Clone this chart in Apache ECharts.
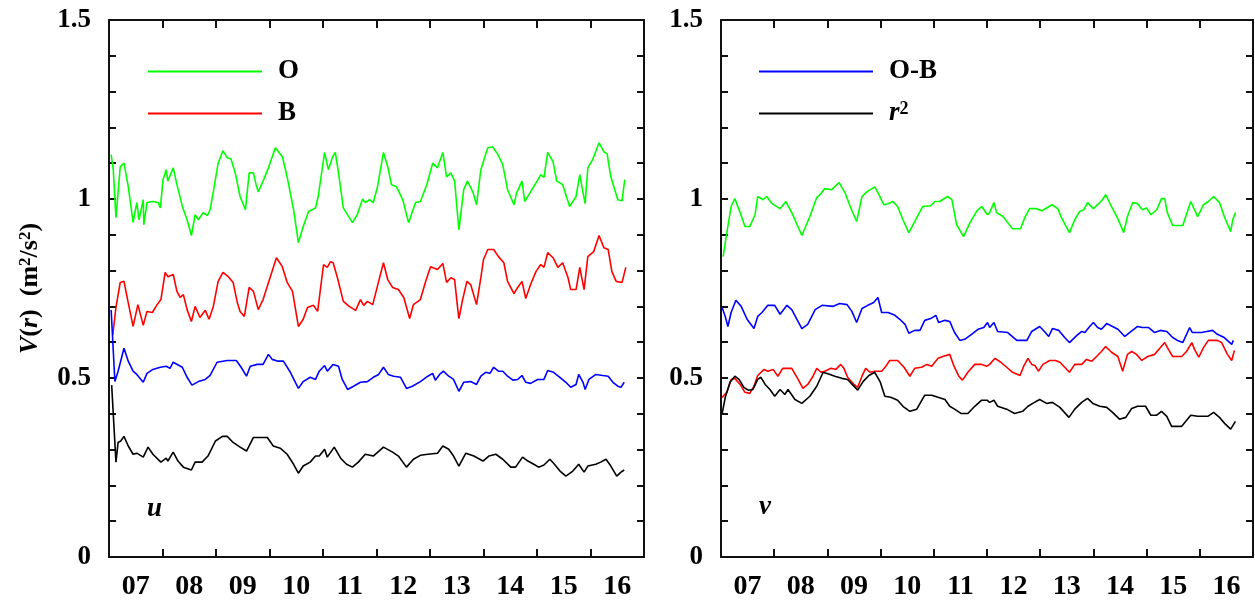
<!DOCTYPE html>
<html>
<head>
<meta charset="utf-8">
<script src="https://cdn.jsdelivr.net/npm/echarts@6/dist/echarts.min.js"></script>
<style>
  html, body { margin: 0; padding: 0; background: #fff; }
  #chart { width: 1255px; height: 601px; }
</style>
</head>
<body>
<div id="chart"></div>
<script>
// x = years since Jan 2007, y = V(r) in m2/s2
const years = ['07', '08', '09', '10', '11', '12', '13', '14', '15', '16'];

// u component
const uO = [[0.04,1.124],[0.08,1.082],[0.13,0.948],[0.21,1.09],[0.28,1.10],[0.36,1.035],[0.45,0.935],[0.52,0.99],[0.56,0.942],[0.64,0.998],[0.65,0.928],[0.71,0.99],[0.82,0.993],[0.92,0.99],[0.96,0.975],[1.01,1.054],[1.07,1.082],[1.10,1.05],[1.20,1.087],[1.27,1.04],[1.37,0.98],[1.46,0.942],[1.54,0.898],[1.61,0.956],[1.67,0.942],[1.76,0.962],[1.84,0.954],[1.89,0.97],[1.95,1.02],[2.04,1.10],[2.13,1.135],[2.21,1.115],[2.28,1.112],[2.36,1.073],[2.45,1.007],[2.55,0.97],[2.62,1.073],[2.70,1.073],[2.75,1.04],[2.79,1.02],[2.88,1.05],[2.98,1.087],[3.11,1.143],[3.24,1.118],[3.33,1.062],[3.45,0.97],[3.54,0.878],[3.63,0.923],[3.73,0.965],[3.86,0.975],[3.91,1.007],[4.03,1.13],[4.10,1.082],[4.18,1.118],[4.23,1.13],[4.29,1.073],[4.38,0.975],[4.55,0.934],[4.64,0.956],[4.74,1.0],[4.79,0.99],[4.87,0.998],[4.94,0.99],[5.02,1.035],[5.13,1.13],[5.21,1.09],[5.28,1.04],[5.37,1.035],[5.49,0.998],[5.60,0.934],[5.73,0.99],[5.82,0.993],[5.94,1.04],[6.05,1.10],[6.14,1.087],[6.24,1.13],[6.31,1.062],[6.39,1.073],[6.46,1.05],[6.54,0.914],[6.63,1.026],[6.70,1.05],[6.80,1.02],[6.87,0.984],[6.95,1.082],[7.08,1.143],[7.17,1.146],[7.27,1.124],[7.36,1.096],[7.45,1.026],[7.57,0.984],[7.62,1.018],[7.72,1.05],[7.77,0.993],[7.88,1.02],[8.00,1.05],[8.07,1.068],[8.13,1.06],[8.20,1.13],[8.30,1.104],[8.37,1.05],[8.48,1.04],[8.61,0.979],[8.73,1.007],[8.80,1.068],[8.86,1.018],[8.90,0.987],[8.95,1.087],[9.04,1.11],[9.16,1.157],[9.25,1.132],[9.31,1.126],[9.38,1.062],[9.51,0.998],[9.59,0.995],[9.64,1.054]];
const uB = [[0.07,0.62],[0.13,0.697],[0.21,0.767],[0.28,0.77],[0.36,0.71],[0.45,0.644],[0.54,0.705],[0.64,0.647],[0.71,0.686],[0.81,0.683],[0.90,0.705],[0.97,0.719],[1.05,0.795],[1.10,0.783],[1.20,0.789],[1.27,0.742],[1.33,0.725],[1.39,0.733],[1.46,0.691],[1.54,0.658],[1.61,0.70],[1.70,0.669],[1.80,0.689],[1.87,0.664],[1.95,0.70],[2.04,0.77],[2.13,0.795],[2.23,0.783],[2.32,0.767],[2.40,0.71],[2.45,0.686],[2.53,0.672],[2.62,0.753],[2.70,0.742],[2.79,0.691],[2.88,0.719],[3.01,0.78],[3.13,0.836],[3.24,0.811],[3.33,0.767],[3.43,0.742],[3.54,0.644],[3.63,0.664],[3.71,0.697],[3.82,0.703],[3.90,0.686],[4.01,0.817],[4.08,0.809],[4.14,0.825],[4.19,0.822],[4.27,0.78],[4.38,0.714],[4.49,0.70],[4.61,0.689],[4.70,0.719],[4.76,0.703],[4.83,0.714],[4.93,0.705],[5.04,0.77],[5.13,0.822],[5.21,0.775],[5.30,0.753],[5.41,0.747],[5.51,0.725],[5.62,0.666],[5.69,0.705],[5.82,0.719],[5.92,0.77],[6.01,0.811],[6.14,0.803],[6.24,0.82],[6.31,0.767],[6.39,0.78],[6.46,0.775],[6.52,0.691],[6.54,0.666],[6.61,0.719],[6.69,0.77],[6.76,0.761],[6.87,0.705],[6.95,0.78],[7.00,0.831],[7.08,0.859],[7.19,0.859],[7.28,0.839],[7.38,0.822],[7.45,0.77],[7.57,0.736],[7.64,0.753],[7.72,0.77],[7.79,0.722],[7.88,0.761],[7.98,0.797],[8.07,0.817],[8.13,0.809],[8.20,0.85],[8.30,0.836],[8.39,0.809],[8.48,0.822],[8.58,0.78],[8.63,0.747],[8.73,0.747],[8.80,0.809],[8.88,0.747],[8.95,0.839],[9.06,0.853],[9.16,0.898],[9.25,0.864],[9.33,0.859],[9.40,0.797],[9.48,0.77],[9.59,0.767],[9.66,0.809]];
const uOB = [[0.04,0.69],[0.11,0.49],[0.17,0.519],[0.28,0.583],[0.36,0.547],[0.45,0.519],[0.52,0.51],[0.64,0.488],[0.71,0.513],[0.82,0.524],[0.96,0.53],[1.07,0.533],[1.14,0.527],[1.20,0.544],[1.37,0.53],[1.46,0.502],[1.55,0.48],[1.67,0.49],[1.80,0.496],[1.89,0.507],[2.02,0.544],[2.21,0.549],[2.38,0.549],[2.47,0.53],[2.57,0.505],[2.64,0.533],[2.77,0.538],[2.88,0.538],[2.98,0.566],[3.05,0.552],[3.16,0.547],[3.26,0.547],[3.39,0.516],[3.54,0.471],[3.63,0.49],[3.76,0.502],[3.86,0.496],[3.93,0.519],[4.03,0.535],[4.08,0.519],[4.19,0.538],[4.29,0.533],[4.36,0.496],[4.46,0.468],[4.57,0.477],[4.70,0.488],[4.83,0.49],[4.94,0.502],[5.04,0.51],[5.13,0.53],[5.22,0.51],[5.32,0.505],[5.45,0.502],[5.56,0.471],[5.67,0.477],[5.82,0.49],[5.96,0.505],[6.05,0.513],[6.10,0.494],[6.18,0.51],[6.25,0.519],[6.35,0.505],[6.44,0.496],[6.54,0.463],[6.63,0.488],[6.76,0.49],[6.87,0.482],[6.95,0.505],[7.04,0.516],[7.12,0.513],[7.19,0.53],[7.28,0.519],[7.36,0.519],[7.45,0.505],[7.55,0.494],[7.64,0.496],[7.72,0.507],[7.79,0.488],[7.88,0.485],[8.01,0.496],[8.13,0.496],[8.20,0.521],[8.31,0.516],[8.45,0.499],[8.54,0.488],[8.63,0.474],[8.73,0.482],[8.78,0.51],[8.86,0.488],[8.90,0.468],[8.97,0.496],[9.10,0.51],[9.23,0.507],[9.33,0.505],[9.42,0.488],[9.51,0.477],[9.57,0.474],[9.63,0.488]];
const uR2 = [[0.05,0.48],[0.13,0.265],[0.17,0.32],[0.22,0.324],[0.28,0.337],[0.36,0.31],[0.45,0.287],[0.52,0.29],[0.64,0.279],[0.73,0.307],[0.82,0.287],[0.97,0.265],[1.07,0.276],[1.10,0.268],[1.20,0.293],[1.29,0.268],[1.39,0.251],[1.54,0.243],[1.61,0.265],[1.74,0.265],[1.85,0.282],[1.99,0.324],[2.12,0.337],[2.21,0.337],[2.32,0.32],[2.45,0.307],[2.57,0.296],[2.70,0.334],[2.96,0.334],[3.07,0.31],[3.20,0.304],[3.33,0.287],[3.45,0.259],[3.54,0.234],[3.63,0.254],[3.76,0.265],[3.86,0.282],[3.93,0.282],[4.03,0.301],[4.08,0.279],[4.21,0.307],[4.33,0.276],[4.44,0.259],[4.55,0.251],[4.66,0.265],[4.79,0.287],[4.94,0.282],[5.13,0.307],[5.30,0.293],[5.41,0.282],[5.56,0.251],[5.69,0.273],[5.82,0.284],[5.96,0.287],[6.14,0.29],[6.24,0.31],[6.35,0.301],[6.44,0.282],[6.54,0.254],[6.67,0.29],[6.82,0.282],[6.99,0.268],[7.10,0.282],[7.23,0.287],[7.36,0.273],[7.51,0.251],[7.60,0.251],[7.73,0.279],[7.83,0.268],[7.94,0.259],[8.03,0.251],[8.13,0.257],[8.24,0.273],[8.31,0.262],[8.43,0.24],[8.54,0.226],[8.67,0.24],[8.78,0.259],[8.88,0.237],[8.95,0.254],[9.10,0.259],[9.19,0.265],[9.29,0.273],[9.38,0.254],[9.49,0.226],[9.57,0.237],[9.63,0.243]];

// v component
const vO = [[0.04,0.839],[0.11,0.906],[0.19,0.979],[0.26,1.001],[0.36,0.962],[0.45,0.923],[0.54,0.923],[0.64,0.956],[0.69,1.007],[0.79,0.998],[0.86,1.007],[0.96,0.987],[1.11,0.973],[1.22,0.993],[1.33,0.962],[1.52,0.898],[1.67,0.951],[1.80,1.004],[1.86,1.012],[1.95,1.029],[2.08,1.026],[2.22,1.046],[2.33,1.018],[2.44,0.975],[2.55,0.937],[2.65,1.007],[2.74,1.02],[2.89,1.034],[2.97,1.012],[3.06,0.984],[3.14,0.987],[3.23,0.993],[3.32,0.979],[3.42,0.942],[3.53,0.906],[3.64,0.937],[3.79,0.979],[3.94,0.981],[4.02,0.993],[4.11,0.993],[4.26,1.007],[4.34,0.998],[4.43,0.928],[4.56,0.895],[4.68,0.934],[4.81,0.967],[4.90,0.979],[5.01,0.956],[5.05,0.962],[5.13,0.99],[5.18,0.962],[5.30,0.951],[5.39,0.934],[5.48,0.917],[5.63,0.917],[5.71,0.948],[5.80,0.973],[5.93,0.973],[6.03,0.967],[6.12,0.975],[6.22,0.984],[6.33,0.973],[6.40,0.948],[6.55,0.906],[6.65,0.942],[6.74,0.965],[6.82,0.97],[6.89,0.99],[7.00,0.973],[7.10,0.987],[7.17,0.998],[7.23,1.012],[7.34,0.979],[7.46,0.945],[7.57,0.906],[7.64,0.951],[7.74,0.99],[7.83,0.987],[7.92,0.97],[8.00,0.975],[8.08,0.956],[8.19,0.97],[8.28,1.001],[8.34,1.001],[8.39,0.962],[8.49,0.926],[8.68,0.926],[8.83,0.993],[8.96,0.951],[9.07,0.984],[9.16,0.993],[9.26,1.007],[9.37,0.99],[9.46,0.951],[9.58,0.909],[9.62,0.942],[9.67,0.962]];
const vB = [[0.02,0.446],[0.11,0.46],[0.19,0.496],[0.26,0.499],[0.36,0.482],[0.45,0.46],[0.54,0.457],[0.62,0.477],[0.69,0.507],[0.81,0.524],[0.88,0.519],[0.98,0.524],[1.07,0.505],[1.16,0.527],[1.33,0.527],[1.45,0.496],[1.54,0.471],[1.63,0.482],[1.73,0.505],[1.80,0.527],[1.88,0.516],[1.95,0.519],[2.07,0.527],[2.16,0.524],[2.25,0.538],[2.31,0.527],[2.38,0.502],[2.50,0.482],[2.57,0.474],[2.65,0.505],[2.72,0.527],[2.80,0.516],[2.89,0.519],[3.02,0.519],[3.10,0.533],[3.17,0.549],[3.32,0.549],[3.44,0.53],[3.55,0.505],[3.64,0.527],[3.77,0.53],[3.87,0.538],[3.96,0.533],[4.08,0.555],[4.17,0.56],[4.30,0.566],[4.38,0.533],[4.47,0.505],[4.54,0.494],[4.64,0.516],[4.77,0.538],[4.90,0.538],[5.00,0.533],[5.05,0.538],[5.15,0.555],[5.26,0.544],[5.37,0.53],[5.48,0.516],[5.62,0.507],[5.69,0.533],[5.77,0.555],[5.84,0.538],[5.90,0.535],[5.97,0.519],[6.05,0.538],[6.18,0.549],[6.29,0.549],[6.37,0.544],[6.46,0.53],[6.55,0.516],[6.65,0.538],[6.78,0.538],[6.87,0.552],[6.97,0.547],[7.06,0.56],[7.15,0.574],[7.23,0.588],[7.34,0.572],[7.46,0.56],[7.55,0.519],[7.64,0.566],[7.72,0.574],[7.81,0.566],[7.91,0.549],[8.02,0.56],[8.15,0.566],[8.26,0.585],[8.34,0.599],[8.41,0.58],[8.49,0.56],[8.66,0.56],[8.75,0.574],[8.85,0.599],[8.90,0.58],[8.98,0.558],[9.07,0.585],[9.16,0.605],[9.33,0.605],[9.41,0.599],[9.52,0.566],[9.60,0.549],[9.65,0.577]];
const vOB = [[0.02,0.697],[0.08,0.672],[0.13,0.644],[0.19,0.683],[0.28,0.717],[0.38,0.70],[0.49,0.664],[0.62,0.638],[0.69,0.672],[0.77,0.683],[0.88,0.703],[1.01,0.703],[1.11,0.678],[1.24,0.703],[1.33,0.691],[1.52,0.638],[1.63,0.65],[1.77,0.691],[1.90,0.703],[2.10,0.70],[2.23,0.708],[2.37,0.705],[2.46,0.686],[2.55,0.655],[2.65,0.694],[2.76,0.703],[2.87,0.711],[2.95,0.725],[3.02,0.683],[3.14,0.683],[3.27,0.675],[3.36,0.664],[3.46,0.65],[3.53,0.625],[3.64,0.633],[3.74,0.633],[3.83,0.661],[3.94,0.666],[4.04,0.675],[4.09,0.655],[4.21,0.661],[4.30,0.658],[4.39,0.627],[4.49,0.605],[4.58,0.608],[4.71,0.622],[4.83,0.636],[4.94,0.641],[5.01,0.655],[5.05,0.641],[5.13,0.655],[5.20,0.63],[5.39,0.627],[5.56,0.605],[5.75,0.605],[5.84,0.63],[5.99,0.644],[6.08,0.63],[6.16,0.616],[6.23,0.638],[6.35,0.633],[6.46,0.613],[6.55,0.599],[6.69,0.619],[6.78,0.63],[6.84,0.627],[6.93,0.644],[7.00,0.655],[7.08,0.641],[7.15,0.636],[7.25,0.652],[7.36,0.644],[7.46,0.636],[7.59,0.616],[7.68,0.627],[7.83,0.644],[7.92,0.641],[8.04,0.641],[8.15,0.627],[8.26,0.633],[8.38,0.63],[8.49,0.613],[8.58,0.605],[8.68,0.599],[8.81,0.641],[8.86,0.627],[9.03,0.627],[9.13,0.63],[9.24,0.633],[9.33,0.622],[9.46,0.613],[9.60,0.594],[9.63,0.605]];
const vR2 = [[0.02,0.399],[0.08,0.446],[0.17,0.488],[0.26,0.505],[0.34,0.496],[0.43,0.474],[0.51,0.466],[0.60,0.468],[0.69,0.496],[0.75,0.502],[0.83,0.482],[0.92,0.468],[1.01,0.449],[1.11,0.468],[1.20,0.454],[1.26,0.468],[1.39,0.44],[1.52,0.429],[1.67,0.449],[1.80,0.477],[1.92,0.516],[2.05,0.51],[2.14,0.505],[2.27,0.499],[2.38,0.496],[2.48,0.48],[2.57,0.466],[2.67,0.49],[2.78,0.507],[2.89,0.516],[2.99,0.49],[3.08,0.449],[3.19,0.446],[3.32,0.438],[3.42,0.421],[3.55,0.407],[3.68,0.413],[3.83,0.452],[3.96,0.452],[4.08,0.446],[4.21,0.440],[4.30,0.421],[4.39,0.413],[4.51,0.401],[4.64,0.401],[4.77,0.421],[4.90,0.438],[5.00,0.438],[5.05,0.432],[5.13,0.438],[5.20,0.421],[5.37,0.413],[5.52,0.401],[5.67,0.407],[5.77,0.421],[5.86,0.429],[5.99,0.44],[6.12,0.429],[6.23,0.432],[6.37,0.418],[6.54,0.39],[6.65,0.413],[6.78,0.432],[6.89,0.443],[6.99,0.429],[7.12,0.421],[7.25,0.418],[7.36,0.404],[7.49,0.385],[7.61,0.39],[7.72,0.415],[7.83,0.421],[7.98,0.421],[8.08,0.396],[8.19,0.396],[8.28,0.407],[8.38,0.393],[8.47,0.365],[8.66,0.365],[8.83,0.396],[8.96,0.393],[9.15,0.393],[9.26,0.404],[9.37,0.39],[9.48,0.371],[9.58,0.357],[9.67,0.379]];

const FONT = '"Liberation Serif", "DejaVu Serif", serif';
const INK = '#111';

function halfLabel(v) {
    return Math.abs(v * 2 - Math.round(v * 2)) < 1e-6 ? String(Math.round(v * 10) / 10) : '';
}

function dataX(grid) {
    return { gridIndex: grid, type: 'value', min: 0, max: 10, show: false };
}
function yearX(grid, pos) {
    return {
        gridIndex: grid, type: 'category', data: years, position: pos, boundaryGap: true,
        axisLine: { show: true, lineStyle: { color: INK, width: 2 } },
        axisTick: { show: true, inside: true, length: 8, lineStyle: { color: INK, width: 2 } },
        axisLabel: {
            show: pos === 'bottom', margin: 16,
            fontFamily: FONT, fontWeight: 'bold', fontSize: 28, color: '#000'
        },
        splitLine: { show: false }
    };
}
function valY(grid, pos, withLabels) {
    return {
        gridIndex: grid, type: 'value', position: pos, min: 0, max: 1.5, interval: 0.1,
        axisLine: { show: true, lineStyle: { color: INK, width: 2 } },
        axisTick: { show: true, inside: true, length: 7, lineStyle: { color: INK, width: 2 } },
        axisLabel: {
            show: withLabels, margin: 18, formatter: halfLabel,
            fontFamily: FONT, fontWeight: 'bold', fontSize: 27, color: '#000'
        },
        splitLine: { show: false }
    };
}
function line(name, data, color, xi, yi) {
    return {
        name: name, type: 'line', data: data, xAxisIndex: xi, yAxisIndex: yi,
        showSymbol: false, symbol: 'none', smooth: false,
        lineStyle: { color: color, width: 1.6 }, itemStyle: { color: color },
        emphasis: { disabled: true }
    };
}

const legendText = {
    fontFamily: FONT, fontWeight: 'bold', fontSize: 27, color: '#000', lineHeight: 26,
    padding: [0, 0, 0, 11],
    rich: {
        i: { fontFamily: FONT, fontWeight: 'bold', fontStyle: 'italic', fontSize: 27, color: '#000' },
        s: { fontFamily: FONT, fontWeight: 'bold', fontSize: 18, color: '#000', verticalAlign: 'top' }
    }
};

const chart = echarts.init(document.getElementById('chart'));

const yLeft = valY(0, 'left', true);
yLeft.name = '{i|V}({i|r})  (m{s|2}/s{s|2})';
yLeft.nameLocation = 'middle';
yLeft.nameRotate = 90;
yLeft.nameGap = 66;
yLeft.nameTextStyle = {
    fontFamily: FONT, fontWeight: 'bold', fontSize: 26, color: '#000',
    rich: {
        i: { fontFamily: FONT, fontWeight: 'bold', fontStyle: 'italic', fontSize: 26, color: '#000' },
        s: { fontFamily: FONT, fontWeight: 'bold', fontSize: 17, color: '#000', verticalAlign: 'top' }
    }
};

chart.setOption({
    animation: false,
    backgroundColor: '#fff',
    grid: [
        { left: 109, top: 20, width: 535, height: 538 },
        { left: 721, top: 20, width: 532, height: 538 }
    ],
    xAxis: [
        dataX(0), yearX(0, 'bottom'), yearX(0, 'top'),
        dataX(1), yearX(1, 'bottom'), yearX(1, 'top')
    ],
    yAxis: [
        yLeft, valY(0, 'right', false),
        valY(1, 'left', true), valY(1, 'right', false)
    ],
    legend: [
        {
            data: ['O', 'B'], orient: 'vertical', left: 143, top: 53,
            icon: 'rect', itemWidth: 114, itemHeight: 2, itemGap: 15,
            selectedMode: false, textStyle: legendText
        },
        {
            data: ['O-B', 'r2'], orient: 'vertical', left: 754, top: 53,
            icon: 'rect', itemWidth: 114, itemHeight: 2, itemGap: 15,
            selectedMode: false, textStyle: legendText,
            formatter: function (name) { return name === 'r2' ? '{i|r}{s|2}' : name; }
        }
    ],
    graphic: [
        { type: 'text', left: 147, top: 496, style: { text: 'u', font: 'italic bold 27px ' + FONT, fill: '#000' } },
        { type: 'text', left: 759, top: 494, style: { text: 'v', font: 'italic bold 27px ' + FONT, fill: '#000' } }
    ],
    series: [
        line('O', uO, '#00ff00', 0, 0),
        line('B', uB, '#ff0000', 0, 0),
        line('O-B', uOB, '#0000ff', 0, 0),
        line('r2', uR2, '#000000', 0, 0),
        line('O', vO, '#00ff00', 3, 2),
        line('B', vB, '#ff0000', 3, 2),
        line('O-B', vOB, '#0000ff', 3, 2),
        line('r2', vR2, '#000000', 3, 2)
    ]
});
</script>
</body>
</html>
